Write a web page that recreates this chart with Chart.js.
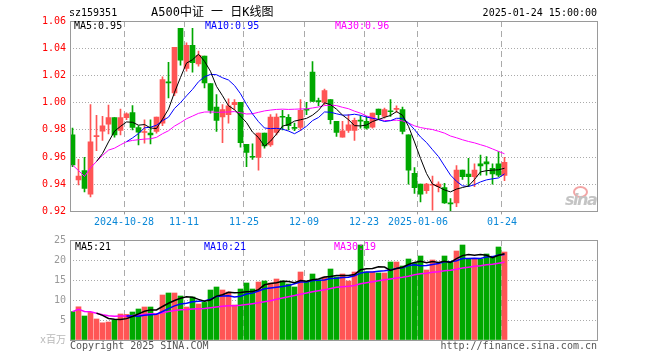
<!DOCTYPE html>
<html><head><meta charset="utf-8">
<script src="https://cdn.jsdelivr.net/npm/chart.js@4.4.1/dist/chart.umd.min.js"></script>
<style>
body{margin:0;background:#fff}
#wrap{position:relative;width:660px;height:360px;overflow:hidden;font-family:'DejaVu Sans Mono','Noto Sans CJK SC',monospace;font-size:10px}
canvas{position:absolute;left:0;top:0}
.t{position:absolute;white-space:pre;line-height:12px}
</style></head><body>
<div id="wrap">
<canvas id="main" width="660" height="360"></canvas>
<canvas id="vol" width="660" height="360"></canvas>
<span class="t" style="left:69px;top:7px;color:#000">sz159351</span>
<span class="t" style="left:151px;top:5px;color:#000;font-size:12px;line-height:14px">A500中证 一 日K线图</span>
<span class="t" style="right:63px;top:7px;color:#000">2025-01-24 15:00:00</span>
<span class="t" style="left:74px;top:20px;color:#000">MA5:0.95</span>
<span class="t" style="left:205px;top:20px;color:#0000ff">MA10:0.95</span>
<span class="t" style="left:335px;top:20px;color:#ff00ff">MA30:0.96</span>
<span class="t" style="left:75px;top:241px;color:#000">MA5:21</span>
<span class="t" style="left:204px;top:241px;color:#0000ff">MA10:21</span>
<span class="t" style="left:334px;top:241px;color:#ff00ff">MA30:19</span>
<span class="t" style="left:70px;top:340px;color:#555">Copyright 2025 SINA.COM</span>
<span class="t" style="right:63px;top:340px;color:#555">http://finance.sina.com.cn</span>
<div style="position:absolute;left:573px;top:186px;width:11px;height:8px;border:2px solid #f3a5a5;border-radius:50%"></div>
<span class="t" style="left:565px;top:191px;color:#c4c4c4;font:italic bold 16px 'DejaVu Sans',sans-serif;line-height:18px;letter-spacing:-1.5px">sina</span>
</div>
<script>
const dates = ["2024-10-15","2024-10-16","2024-10-17","2024-10-18","2024-10-21","2024-10-22","2024-10-23","2024-10-24","2024-10-25","2024-10-28","2024-10-29","2024-10-30","2024-10-31",
"2024-11-01","2024-11-04","2024-11-05","2024-11-06","2024-11-07","2024-11-08","2024-11-11","2024-11-12","2024-11-13","2024-11-14","2024-11-15","2024-11-18","2024-11-19","2024-11-20","2024-11-21","2024-11-22","2024-11-25","2024-11-26","2024-11-27","2024-11-28","2024-11-29",
"2024-12-02","2024-12-03","2024-12-04","2024-12-05","2024-12-06","2024-12-09","2024-12-10","2024-12-11","2024-12-12","2024-12-13","2024-12-16","2024-12-17","2024-12-18","2024-12-19","2024-12-20","2024-12-23","2024-12-24","2024-12-25","2024-12-26","2024-12-27","2024-12-30","2024-12-31",
"2025-01-02","2025-01-03","2025-01-06","2025-01-07","2025-01-08","2025-01-09","2025-01-10","2025-01-13","2025-01-14","2025-01-15","2025-01-16","2025-01-17","2025-01-20","2025-01-21","2025-01-22","2025-01-23","2025-01-24"];
const openP  = [.9763,.9431,.9500,.9327,.9750,.9790,.9842,.9889,.9795,.9889,.9926,.9817,.9780,.9775,.9788,.9849,1.0150,1.0071,1.0546,1.0251,1.0421,1.0285,1.0342,1.0140,.9967,.9894,.9911,.9985,1.0002,.9694,.9601,.9596,.9775,.9689,.9780,.9896,.9891,.9815,.9817,.9950,1.0224,1.0011,1.0002,1.0022,.9862,.9746,.9795,.9795,.9868,.9862,.9820,.9953,.9899,.9937,.9950,.9948,.9763,.9480,.9401,.9352,.9392,.9381,.9376,.9260,.9263,.9504,.9475,.9455,.9549,.9564,.9517,.9549,.9465];
const highP  = [.9812,.9583,.9598,.9985,.9906,.9899,.9982,.9889,.9953,.9925,.9978,.9830,.9874,.9874,.9894,1.0189,1.0297,1.0406,1.0546,1.0440,1.0546,1.0379,1.0342,1.0140,1.0059,.9985,1.0027,1.0022,1.0002,.9694,.9697,.9775,.9775,.9911,.9918,.9943,.9911,.9849,1.0022,1.0002,1.0302,1.0034,1.0100,1.0022,.9862,.9862,.9911,.9886,.9903,.9899,.9923,.9953,.9960,1.0022,.9977,.9967,.9763,.9522,.9401,.9406,.9460,.9418,.9406,.9295,.9536,.9504,.9590,.9549,.9615,.9603,.9549,.9640,.9598];
const lowP   = [.9529,.9394,.9344,.9307,.9647,.9721,.9770,.9746,.9763,.9874,.9800,.9689,.9701,.9697,.9775,.9830,1.0034,1.0051,1.0275,1.0231,1.0224,1.0268,1.0108,.9923,.9788,.9706,.9849,.9948,.9672,.9529,.9583,.9504,.9665,.9677,.9763,.9800,.9800,.9793,.9795,.9911,1.0009,.9977,.9985,.9844,.9751,.9746,.9780,.9721,.9812,.9805,.9812,.9874,.9886,.9899,.9928,.9770,.9401,.9332,.9270,.9332,.9209,.9344,.9258,.9204,.9234,.9435,.9381,.9381,.9467,.9467,.9401,.9455,.9426];
const closeP = [.9541,.9460,.9369,.9711,.9755,.9830,.9889,.9763,.9889,.9918,.9817,.9783,.9787,.9763,.9894,1.0169,1.0145,1.0406,1.0312,1.0421,1.0293,1.0347,1.0145,.9943,.9869,.9948,.9977,1.0002,.9706,.9633,.9598,.9775,.9682,.9894,.9894,.9892,.9830,.9810,.9943,.9945,1.0009,1.0007,1.0088,.9874,.9780,.9793,.9837,.9869,.9864,.9812,.9923,.9911,.9948,.9933,.9955,.9788,.9504,.9374,.9327,.9401,.9397,.9401,.9263,.9255,.9504,.9455,.9455,.9504,.9534,.9549,.9475,.9467,.9561];
const volume = [7.1,8.3,6.0,6.9,5.25,4.3,4.5,5.0,6.5,6.4,7.0,7.75,8.25,8.25,6.4,11.25,11.75,11.75,11.0,8.25,10.75,9.0,9.4,12.5,13.25,12.5,12.0,8.75,12.75,14.25,12.75,14.5,14.75,14.25,15.25,14.75,14.0,13.25,17.0,14.5,16.5,15.0,15.75,17.75,15.75,16.5,14.75,17.0,23.75,17.0,17.0,16.75,16.75,19.5,19.5,18.5,20.25,19.25,21.0,17.5,20.0,19.0,21.0,19.5,22.25,23.75,20.25,20.25,20.25,21.5,20.75,23.25,22.0];
const tickDates  = ["2024-10-28","2024-11-11","2024-11-25","2024-12-09","2024-12-23","2025-01-06","2025-01-24"];
const tickLabels = ["2024-10-28","11-11","11-25","12-09","12-23","2025-01-06","01-24"];
const priceTicks = [0.92,0.94,0.96,0.98,1.00,1.02,1.04,1.06];
const volTicks = [0,5,10,15,20,25];

const RED='#ff5555', GREEN='#00a800';
const idx = dates.map((d,i)=>i);
const tickIdx = tickDates.map(d=>dates.indexOf(d));
const up = idx.map(i=>closeP[i]>=openP[i]);
const colors = up.map(u=>u?RED:GREEN);

function ma(arr,n,partial){
  return arr.map((_,i)=>{
    if(i<n-1 && !partial) return null;
    const s=Math.max(0,i-n+1); let sum=0;
    for(let k=s;k<=i;k++) sum+=arr[k];
    return sum/(i-s+1);
  });
}
const pts = a => a.map((v,i)=>({x:i,y:v}));

Chart.defaults.font.family="'DejaVu Sans Mono','Noto Sans CJK SC',monospace";
Chart.defaults.font.size=10;

const frame={id:'frame',afterDraw(c){const {ctx,chartArea:a}=c;const l=Math.round(a.left),t=Math.round(a.top),r=Math.round(a.right),b=Math.round(a.bottom);
ctx.save();ctx.strokeStyle='#9a9a9a';ctx.lineWidth=1;ctx.setLineDash([]);ctx.strokeRect(l+0.5,t+0.5,r-l,b-t);ctx.restore();}};

const X_MIN=-5/12, X_MAX=87+5/12;
function xScale(show){
  return {type:'linear',min:X_MIN,max:X_MAX,offset:false,
    afterBuildTicks:s=>{s.ticks=tickIdx.map(i=>({value:i-5/12}));},
    afterFit:s=>{s.height=show?20:0;},
    grid:{offset:false,color:'#aaa',lineWidth:1,drawTicks:show,tickLength:3,tickColor:'#999'},
    border:{display:false,dash:[6,4]},
    ticks:{display:show,autoSkip:false,maxRotation:0,minRotation:0,padding:2,color:'#0a88d8',callback:(v,i)=>tickLabels[i]}};
}
function lineDs(data,color,w){return {type:'line',data:pts(data),borderColor:color,borderWidth:w,pointRadius:0,tension:0,fill:false,spanGaps:false};}

new Chart(document.getElementById('main'),{
  type:'bar',
  data:{datasets:[
    lineDs(ma(closeP,5,false),'#000',1),
    lineDs(ma(closeP,10,false),'#0000ff',1),
    lineDs(ma(closeP,30,true),'#ff00ff',1),
    {type:'bar',data:idx.map(i=>({x:i,y:[openP[i],closeP[i]]})),backgroundColor:colors,barThickness:5,grouped:false,minBarLength:1},
    {type:'bar',data:idx.map(i=>({x:i,y:[lowP[i],highP[i]]})),backgroundColor:colors,barThickness:1,grouped:false,minBarLength:1}
  ]},
  options:{responsive:false,animation:false,events:[],
    layout:{padding:{left:0,right:63,top:21,bottom:128.6}},
    plugins:{legend:{display:false},tooltip:{enabled:false}},
    scales:{
      x:xScale(true),
      y:{min:priceTicks[0],max:priceTicks[priceTicks.length-1],afterFit:s=>{s.width=70;},
        afterBuildTicks:s=>{s.ticks=priceTicks.map(v=>({value:v}));},
        ticks:{color:'#ff0000',padding:4,callback:v=>Number(v).toFixed(2)},
        grid:{color:'#aaa',drawTicks:false},border:{display:false,dash:[1,2]}}
    }},
  plugins:[frame]
});

new Chart(document.getElementById('vol'),{
  type:'bar',
  data:{datasets:[
    lineDs(ma(volume,5,false),'#000',1.5),
    lineDs(ma(volume,10,false),'#0000ff',1.5),
    lineDs(ma(volume,30,true),'#ff00ff',1.5),
    {type:'bar',data:idx.map(i=>({x:i,y:volume[i]})),backgroundColor:colors,barThickness:5,grouped:false}
  ]},
  options:{responsive:false,animation:false,events:[],
    layout:{padding:{left:0,right:63,top:240,bottom:20}},
    plugins:{legend:{display:false},tooltip:{enabled:false}},
    scales:{
      x:xScale(false),
      y:{min:0,max:25,afterFit:s=>{s.width=70;},
        afterBuildTicks:s=>{s.ticks=volTicks.map(v=>({value:v}));},
        ticks:{padding:4,color:c=>c.tick&&c.tick.value===0?'#b8b8b8':'#999',callback:v=>v===0?'x百万':String(v)},
        grid:{color:'#aaa',drawTicks:false},border:{display:false,dash:[1,2]}}
    }},
  plugins:[frame]
});
</script>
</body></html>
